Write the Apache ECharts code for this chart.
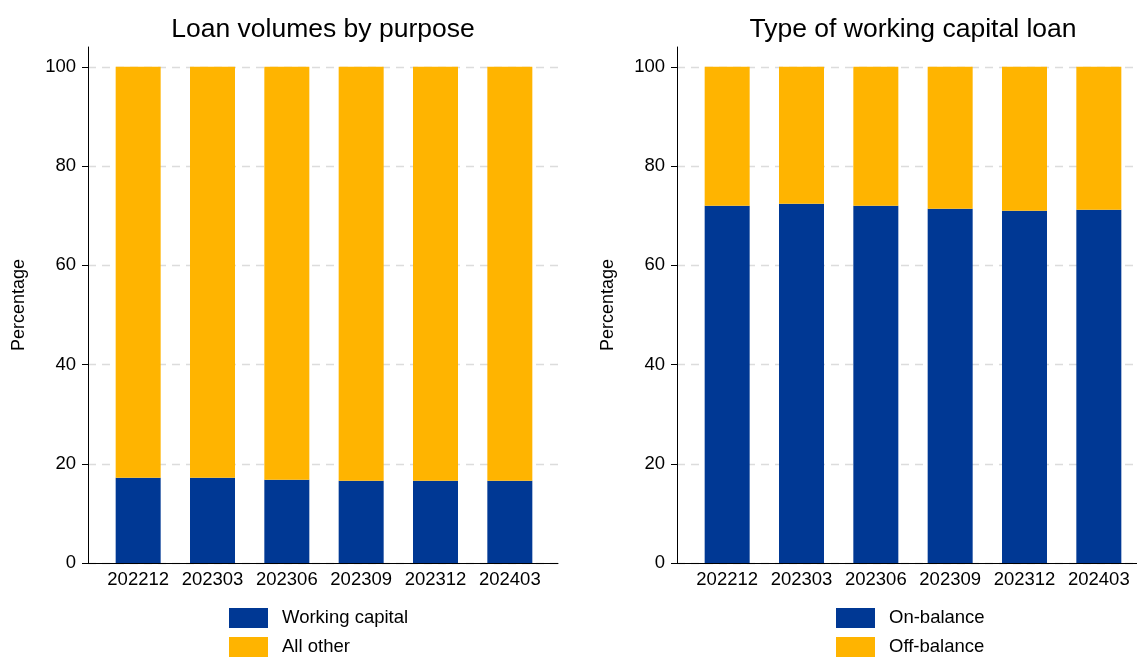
<!DOCTYPE html>
<html>
<head>
<meta charset="utf-8">
<script src="https://cdn.jsdelivr.net/npm/echarts@6/dist/echarts.min.js"></script>
<style>
  html, body { margin: 0; padding: 0; background: #fff; }
  #chart { width: 1137px; height: 657px; }
</style>
</head>
<body>
<div id="chart"></div>
<script>
// data
var periods = ["202212", "202303", "202306", "202309", "202312", "202403"];
var workingCapital = [17.2, 17.2, 16.8, 16.6, 16.6, 16.6];
var allOther = workingCapital.map(function (v) { return +(100 - v).toFixed(1); });
var onBalance = [72.0, 72.4, 72.0, 71.4, 71.0, 71.2];
var offBalance = onBalance.map(function (v) { return +(100 - v).toFixed(1); });
var yTicks = [0, 20, 40, 60, 80, 100];

var BLUE = "#003894";
var YELLOW = "#ffb400";
var FONT = "Liberation Sans";

var chart = echarts.init(document.getElementById("chart"));

// background grids carry the dashed gridlines + x axis line,
// the inner grids hold the bars (narrower, as in the original)
function bgY(gi) {
  return {
    gridIndex: gi, type: "value", min: 0, max: 100, interval: 20,
    axisLine: { show: false }, axisTick: { show: false }, axisLabel: { show: false },
    splitLine: { show: true, lineStyle: { color: "#dcdcdc", type: [8, 6], width: 1.3 } }
  };
}
function bgX(gi) {
  return {
    gridIndex: gi, type: "value", min: 0, max: 1,
    axisLine: { show: true, onZero: false, lineStyle: { color: "#000", width: 1 } },
    axisTick: { show: false }, axisLabel: { show: false }, splitLine: { show: false }
  };
}
function mainY(gi) {
  return {
    gridIndex: gi, type: "value", min: 0, max: 104, interval: 20, offset: 13,
    name: "Percentage", nameLocation: "middle", nameGap: 60,
    nameTextStyle: { fontFamily: FONT, fontSize: 18, color: "#000" },
    axisLine: { show: true, lineStyle: { color: "#000", width: 1 } },
    axisTick: { show: true, length: 6, customValues: yTicks, lineStyle: { color: "#000" } },
    axisLabel: { customValues: yTicks, fontFamily: FONT, fontSize: 18.5, color: "#000", margin: 12 },
    splitLine: { show: false }
  };
}
function mainX(gi) {
  return {
    gridIndex: gi, type: "category", data: periods,
    axisLine: { show: false }, axisTick: { show: false },
    axisLabel: { interval: 0, fontFamily: FONT, fontSize: 18.5, color: "#000", margin: 7 }
  };
}
function legendAt(x, names) {
  return {
    data: names, orient: "vertical", left: x, top: 608, padding: 0,
    itemWidth: 39, itemHeight: 20, itemGap: 9, icon: "rect",
    textStyle: { fontFamily: FONT, fontSize: 18.5, color: "#000", padding: [0, 0, 0, 9] }
  };
}

chart.setOption({
  animation: false,
  backgroundColor: "#fff",
  title: [
    { text: "Loan volumes by purpose", left: 318, top: 11, textAlign: "center",
      textStyle: { fontFamily: FONT, fontSize: 26.5, fontWeight: "normal", color: "#000" } },
    { text: "Type of working capital loan", left: 908, top: 11, textAlign: "center",
      textStyle: { fontFamily: FONT, fontSize: 26.5, fontWeight: "normal", color: "#000" } }
  ],
  legend: [
    legendAt(229, ["Working capital", "All other"]),
    legendAt(836, ["On-balance", "Off-balance"])
  ],
  grid: [
    { left: 88, width: 470, top: 67, height: 496 },
    { left: 677, width: 470, top: 67, height: 496 },
    { left: 101, width: 446, top: 47, height: 516 },
    { left: 690, width: 446, top: 47, height: 516 }
  ],
  xAxis: [bgX(0), bgX(1), mainX(2), mainX(3)],
  yAxis: [bgY(0), bgY(1), mainY(2), mainY(3)],
  series: [
    { name: "Working capital", type: "bar", stack: "a", xAxisIndex: 2, yAxisIndex: 2,
      data: workingCapital, barWidth: 45, itemStyle: { color: BLUE } },
    { name: "All other", type: "bar", stack: "a", xAxisIndex: 2, yAxisIndex: 2,
      data: allOther, barWidth: 45, itemStyle: { color: YELLOW } },
    { name: "On-balance", type: "bar", stack: "b", xAxisIndex: 3, yAxisIndex: 3,
      data: onBalance, barWidth: 45, itemStyle: { color: BLUE } },
    { name: "Off-balance", type: "bar", stack: "b", xAxisIndex: 3, yAxisIndex: 3,
      data: offBalance, barWidth: 45, itemStyle: { color: YELLOW } }
  ]
});
</script>
</body>
</html>
